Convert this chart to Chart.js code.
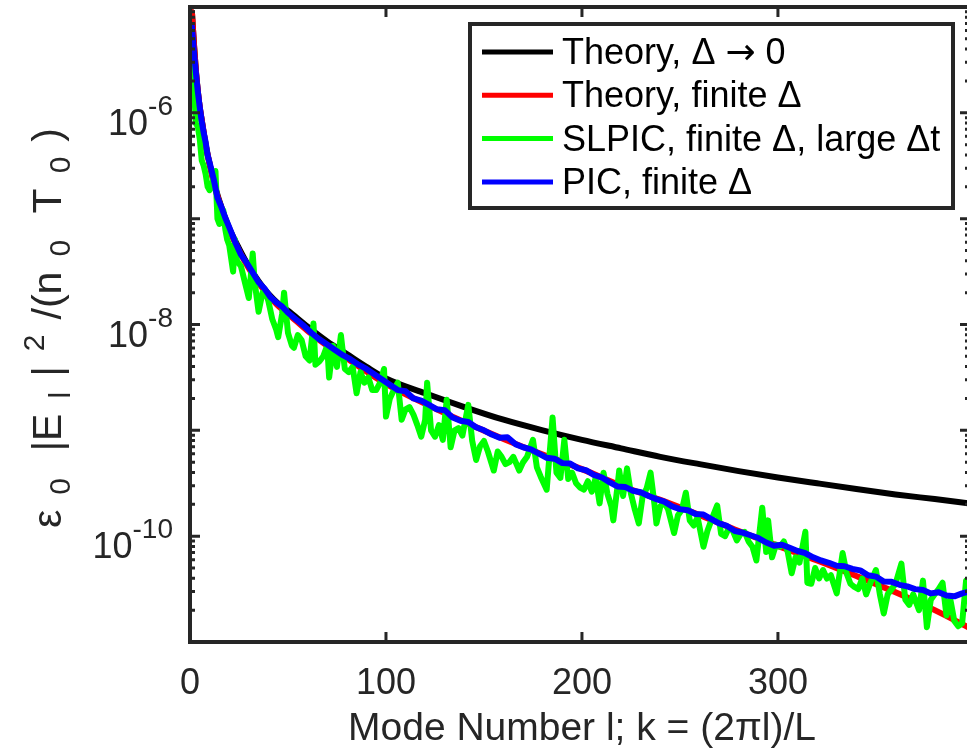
<!DOCTYPE html>
<html>
<head>
<meta charset="utf-8">
<script src="https://cdn.jsdelivr.net/npm/chart.js@4.4.1/dist/chart.umd.min.js"></script>
<style>
    html, body { margin: 0; padding: 0; background: #fff; overflow: hidden; }
    #wrap { width: 967px; height: 749px; overflow: hidden; }
</style>
</head>
<body>
<div id="wrap"><canvas id="spectrum" width="972" height="749"></canvas></div>
<script>
// DATA
const seriesLabels = ['Theory, \u0394 \u2192 0', 'Theory, finite \u0394', 'SLPIC, finite \u0394, large \u0394t', 'PIC, finite \u0394']

const theoryModes = [1, 2, 3, 4, 5, 6, 8, 10, 13, 16, 20, 25, 30, 35, 40, 45, 50, 60, 70, 80, 90, 100,
    120, 140, 160, 180, 200, 220, 240, 260, 280, 300, 320, 340, 360, 380, 398]
const theoryZeroDx = [8.9e-6, 4.5e-6, 2.5e-6, 1.6e-6, 1.12e-6, 8.5e-7, 5.0e-7, 3.3e-7, 1.95e-7, 1.29e-7,
    8.13e-8, 5.25e-8, 3.55e-8, 2.57e-8, 1.95e-8, 1.58e-8, 1.35e-8, 9.55e-9, 6.92e-9, 5.25e-9, 3.98e-9,
    3.09e-9, 2.24e-9, 1.66e-9, 1.26e-9, 1.0e-9, 8.13e-10, 6.76e-10, 5.62e-10, 4.79e-10, 4.12e-10,
    3.59e-10, 3.16e-10, 2.79e-10, 2.48e-10, 2.24e-10, 2.04e-10]
const theoryFiniteDx = [8.9e-6, 4.5e-6, 2.5e-6, 1.6e-6, 1.12e-6, 8.5e-7, 5.0e-7, 3.3e-7, 1.9e-7, 1.26e-7,
    7.9e-8, 5.0e-8, 3.4e-8, 2.45e-8, 1.9e-8, 1.5e-8, 1.26e-8, 8.7e-9, 6.3e-9, 4.8e-9, 3.6e-9, 2.75e-9,
    1.78e-9, 1.2e-9, 8.3e-10, 5.9e-10, 4.3e-10, 3.0e-10, 2.2e-10, 1.58e-10, 1.12e-10, 8.1e-11, 5.9e-11,
    4.2e-11, 2.95e-11, 2.0e-11, 1.35e-11]

const picModes = [1, 2, 3, 4, 5, 6, 7, 8, 9, 10, 12, 14, 16, 18, 20, 23, 26, 29, 32, 35, 38, 41, 44, 47,
    50, 54, 58, 62, 66, 70, 74, 78, 82, 86, 90, 94, 98, 102, 106, 110, 114, 118, 122, 126, 130, 134,
    138, 142, 146, 150, 154, 158, 162, 166, 170, 174, 178, 182, 186, 190, 194, 198, 202, 206, 210, 214,
    218, 222, 226, 230, 234, 238, 242, 246, 250, 254, 258, 262, 266, 270, 274, 278, 282, 286, 290, 294,
    298, 302, 306, 310, 314, 318, 322, 326, 330, 334, 338, 342, 346, 350, 354, 358, 362, 366, 370, 374,
    378, 382, 386, 390, 394, 398]
const picValues = [6.46e-6, 3.8e-6, 2.4e-6, 1.58e-6, 1.12e-6, 8.32e-7, 6.46e-7, 5.25e-7, 3.98e-7, 3.39e-7,
    2.4e-7, 1.58e-7, 1.29e-7, 1.02e-7, 8.32e-8, 6.03e-8, 4.57e-8, 3.8e-8, 3.09e-8, 2.51e-8, 2.19e-8,
    1.82e-8, 1.62e-8, 1.48e-8, 1.29e-8, 1.12e-8, 9.77e-9, 8.32e-9, 7.24e-9, 6.46e-9, 5.75e-9, 5.13e-9,
    4.68e-9, 4.17e-9, 3.8e-9, 3.39e-9, 3.02e-9, 2.69e-9, 2.4e-9, 2.34e-9, 2.0e-9, 1.91e-9, 1.74e-9,
    1.58e-9, 1.55e-9, 1.32e-9, 1.23e-9, 1.2e-9, 1.07e-9, 1.0e-9, 9.12e-10, 8.51e-10, 8.6e-10, 7.41e-10,
    6.92e-10, 6.6e-10, 6.03e-10, 5.5e-10, 5.4e-10, 4.9e-10, 4.85e-10, 4.37e-10, 4.2e-10, 3.8e-10, 3.6e-10,
    3.24e-10, 2.95e-10, 2.92e-10, 2.69e-10, 2.6e-10, 2.4e-10, 2.24e-10, 2.12e-10, 1.91e-10, 1.8e-10,
    1.76e-10, 1.62e-10, 1.6e-10, 1.45e-10, 1.32e-10, 1.25e-10, 1.12e-10, 1.08e-10, 1.02e-10, 9.6e-11,
    8.71e-11, 8.13e-11, 8.3e-11, 7.76e-11, 7.24e-11, 6.9e-11, 6.31e-11, 5.89e-11, 5.6e-11, 5.25e-11,
    5.2e-11, 4.9e-11, 4.75e-11, 4.27e-11, 4.15e-11, 3.72e-11, 3.7e-11, 3.47e-11, 3.35e-11, 3.16e-11,
    3.1e-11, 2.88e-11, 2.95e-11, 2.75e-11, 2.7e-11, 2.88e-11, 3.0e-11]

const slpicModes = [1, 2, 3, 4, 5, 6, 7, 8, 9, 10, 11, 12, 13, 14, 15, 16, 17, 18, 19, 20, 22, 23, 24, 26,
    28, 30, 31, 32, 33, 35, 37, 39, 40, 42, 44, 45, 47, 48, 50, 52, 53, 55, 57, 59, 61, 63, 64, 66, 68,
    70, 71, 73, 75, 77, 79, 81, 83, 85, 87, 89, 91, 93, 95, 97, 99, 100, 102, 104, 106, 108, 110, 112,
    114, 116, 118, 120, 121, 123, 125, 127, 129, 131, 133, 135, 137, 139, 142, 144, 146, 148, 150, 152,
    155, 157, 159, 161, 163, 165, 168, 170, 172, 175, 177, 179, 182, 185, 187, 189, 191, 193, 195, 197,
    199, 201, 203, 205, 207, 209, 211, 213, 215, 216, 218, 219, 221, 223, 225, 227, 229, 231, 233, 235,
    237, 238, 240, 242, 244, 247, 249, 251, 253, 255, 257, 259, 262, 264, 266, 269, 271, 273, 275, 277,
    279, 281, 283, 285, 287, 289, 292, 294, 295, 297, 299, 301, 303, 305, 307, 309, 311, 314, 315, 317,
    319, 321, 323, 325, 327, 330, 333, 335, 337, 339, 341, 343, 345, 347, 350, 352, 354, 356, 358, 360,
    363, 365, 367, 369, 372, 374, 376, 378, 380, 382, 384, 386, 388, 390, 392, 394, 396, 398]
const slpicValues = [3.55e-6, 1.78e-6, 7.94e-7, 7.41e-7, 5.62e-7, 3.55e-7, 3.16e-7, 2.63e-7, 2.0e-7, 1.86e-7,
    2.0e-7, 2.4e-7, 2.82e-7, 1.0e-7, 8.91e-8, 1.12e-7, 1.2e-7, 7.94e-8, 6.31e-8, 5.62e-8, 3.16e-8, 6.31e-8,
    3.98e-8, 3.55e-8, 2.51e-8, 1.78e-8, 2.82e-8, 4.68e-8, 2.51e-8, 1.32e-8, 2.0e-8, 1.91e-8, 1.66e-8,
    1.12e-8, 8.91e-9, 7.59e-9, 1.26e-8, 2.0e-8, 8.32e-9, 6.31e-9, 6.03e-9, 7.94e-9, 7.08e-9, 5.01e-9,
    4.57e-9, 1.02e-8, 4.17e-9, 4.47e-9, 5.01e-9, 6.31e-9, 3.16e-9, 6.31e-9, 3.98e-9, 7.94e-9, 3.8e-9,
    3.55e-9, 3.98e-9, 2.24e-9, 3.55e-9, 2.82e-9, 3.16e-9, 2.4e-9, 2.4e-9, 2.82e-9, 3.8e-9, 1.35e-9,
    2.0e-9, 2.4e-9, 2.82e-9, 1.26e-9, 1.58e-9, 1.66e-9, 1.41e-9, 1.12e-9, 8.71e-10, 1.26e-9, 2.82e-9,
    1.0e-9, 8.71e-10, 1.12e-9, 8.13e-10, 1.95e-9, 6.92e-10, 1.0e-9, 1.05e-9, 8.91e-10, 1.74e-9, 7.94e-10,
    5.25e-10, 7.08e-10, 7.94e-10, 6.31e-10, 4.17e-10, 6.31e-10, 5.62e-10, 4.79e-10, 5.01e-10, 5.62e-10,
    4.17e-10, 5.01e-10, 5.62e-10, 8.13e-10, 4.47e-10, 3.63e-10, 2.75e-10, 1.32e-9, 3.98e-10, 3.55e-10,
    8.13e-10, 3.47e-10, 3.98e-10, 3.16e-10, 2.88e-10, 2.75e-10, 3.31e-10, 2.63e-10, 3.55e-10, 2.04e-10,
    3.98e-10, 2.51e-10, 1.91e-10, 1.41e-10, 2.82e-10, 4.17e-10, 2.4e-10, 4.37e-10, 2.51e-10, 1.78e-10,
    1.32e-10, 2.4e-10, 2.82e-10, 3.98e-10, 2.0e-10, 1.32e-10, 1.91e-10, 2.09e-10, 1.78e-10, 1.07e-10,
    1.58e-10, 1.78e-10, 2.57e-10, 1.41e-10, 1.26e-10, 1.51e-10, 7.94e-11, 1.12e-10, 1.41e-10, 1.95e-10,
    1.05e-10, 1.0e-10, 1.2e-10, 1.12e-10, 9.12e-11, 1.05e-10, 1.1e-10, 8.91e-11, 7.94e-11, 5.89e-11,
    1.86e-10, 7.08e-11, 1.41e-10, 6.31e-11, 8.32e-11, 7.94e-11, 8.91e-11, 7.08e-11, 4.47e-11, 6.31e-11,
    5.62e-11, 1.1e-10, 3.63e-11, 3.55e-11, 5.01e-11, 3.98e-11, 4.79e-11, 3.98e-11, 4.27e-11, 2.88e-11,
    6.92e-11, 4.47e-11, 3.55e-11, 3.31e-11, 3.16e-11, 3.98e-11, 2.82e-11, 3.55e-11, 4.79e-11, 2.82e-11,
    1.86e-11, 2.82e-11, 3.16e-11, 3.55e-11, 5.5e-11, 2.51e-11, 2.24e-11, 2.82e-11, 2.0e-11, 3.8e-11,
    1.38e-11, 2.51e-11, 2.82e-11, 3.16e-11, 3.63e-11, 1.78e-11, 2.51e-11, 1.58e-11, 1.41e-11, 1.51e-11,
    3.8e-11, 4.0e-11]

const xTicks = [0, 100, 200, 300]
const yMajorTicks = [1e-11, 1e-10, 1e-9, 1e-8, 1e-7, 1e-6, 1e-5]
const yLabelTicks = [1e-6, 1e-8, 1e-10]
const yLabelExps = ['-6', '-8', '-10']

const xTitle = 'Mode Number l; k = (2\u03c0l)/L'

const toPoints = (modes, values) => modes.map((m, i) => ({ x: m, y: values[i] }))

// STYLE
const axisColor = '#262626'
const fontFamily = '"Liberation Sans", Arial, Helvetica, sans-serif'
const lineColors = ['#000000', '#ff0000', '#00ff00', '#0000ff']

// draws text, the arrow glyph taken from DejaVu (longer, like the TeX arrow)
const drawLegendText = (ctx, text, x, y, size) => {
    let cx = x
    text.split(/(\u2192)/).forEach((part) => {
        if (!part) return
        ctx.font = part === '\u2192' ? `${size}px "DejaVu Sans"` : `${size}px ${fontFamily}`
        ctx.fillText(part, cx, y)
        cx += ctx.measureText(part).width
    })
}

// AXES, TICKS, LABELS, LEGEND (matlab look)
const matlabAxes = {
    id: 'matlabAxes',
    afterDraw(chart) {
        const ctx = chart.ctx
        const { left, right, top, bottom } = chart.chartArea
        const xs = chart.scales.x
        const ys = chart.scales.y

        ctx.save()
        ctx.strokeStyle = axisColor
        ctx.lineCap = 'butt'

        // ticks
        ctx.lineWidth = 3
        ctx.beginPath()
        xTicks.forEach((v) => {
            const px = xs.getPixelForValue(v)
            ctx.moveTo(px, bottom); ctx.lineTo(px, bottom - 10)
            ctx.moveTo(px, top); ctx.lineTo(px, top + 10)
        })
        yMajorTicks.forEach((v, i) => {
            const py = ys.getPixelForValue(v)
            ctx.moveTo(left, py); ctx.lineTo(left + 10, py)
            ctx.moveTo(right, py); ctx.lineTo(right - 10, py)
            if (i < yMajorTicks.length - 1) {
                for (let k = 2; k < 10; k++) {
                    const pm = ys.getPixelForValue(v * k)
                    ctx.moveTo(left, pm); ctx.lineTo(left + 5, pm)
                    ctx.moveTo(right, pm); ctx.lineTo(right - 5, pm)
                }
            }
        })
        ctx.stroke()

        // box
        ctx.lineWidth = 4
        ctx.strokeRect(left, top, right - left, bottom - top)

        // tick labels
        ctx.fillStyle = axisColor
        ctx.textBaseline = 'alphabetic'
        ctx.font = `36px ${fontFamily}`
        ctx.textAlign = 'center'
        xTicks.forEach((v) => {
            ctx.fillText(String(v), xs.getPixelForValue(v), bottom + 52)
        })

        ctx.textAlign = 'left'
        yLabelTicks.forEach((v, i) => {
            const py = ys.getPixelForValue(v)
            ctx.font = `28px ${fontFamily}`
            const expW = ctx.measureText(yLabelExps[i]).width
            ctx.font = `36px ${fontFamily}`
            const baseW = ctx.measureText('10').width
            const x0 = left - 17 - expW - baseW
            ctx.fillText('10', x0, py + 22)
            ctx.font = `28px ${fontFamily}`
            ctx.fillText(yLabelExps[i], x0 + baseW, py + 2)
        })

        // x title
        ctx.font = `39px ${fontFamily}`
        ctx.textAlign = 'center'
        ctx.fillText(xTitle, (left + right) / 2 + 2, bottom + 98)

        // y title, TeX-like spacing over ~400px
        const pieces = [
            ['\u03b5', 'n'], ['0', 'sub'], [' |E', 'n'], ['l', 'sub'], ['|', 'n'], ['2', 'sup'],
            ['/(n', 'n'], ['0', 'sub'], [' T', 'n'], ['0', 'sub'], [')', 'n'],
        ]
        const pieceFont = (kind) => kind === 'n' ? `41px ${fontFamily}` : `30px ${fontFamily}`
        let total = 0
        pieces.forEach(([t, kind]) => {
            ctx.font = pieceFont(kind)
            total += ctx.measureText(t).width
        })
        const gap = Math.max(0, (400 - total) / (pieces.length - 1))
        ctx.translate(61, 328)
        ctx.rotate(-Math.PI / 2)
        ctx.textAlign = 'left'
        let cx = -200
        pieces.forEach(([t, kind]) => {
            ctx.font = pieceFont(kind)
            const dy = kind === 'sub' ? 9 : kind === 'sup' ? -17 : 0
            ctx.fillText(t, cx, dy)
            cx += ctx.measureText(t).width + gap
        })
        ctx.restore()

        // legend
        ctx.save()
        const lx = right - 500
        const ly = top + 17
        const lw = 483
        const lh = 184
        ctx.fillStyle = '#ffffff'
        ctx.fillRect(lx, ly, lw, lh)
        ctx.strokeStyle = axisColor
        ctx.lineWidth = 4
        ctx.strokeRect(lx, ly, lw, lh)
        ctx.textAlign = 'left'
        ctx.textBaseline = 'alphabetic'
        chart.data.datasets.forEach((ds, i) => {
            const ry = ly + 28 + i * 43.3
            ctx.strokeStyle = ds.borderColor
            ctx.lineWidth = 5
            ctx.beginPath()
            ctx.moveTo(lx + 12, ry)
            ctx.lineTo(lx + 83, ry)
            ctx.stroke()
            ctx.fillStyle = '#000000'
            drawLegendText(ctx, ds.label, lx + 92, ry + 12, 36)
        })
        ctx.restore()
    }
}

const spectrumCtx = document.getElementById('spectrum')

new Chart(spectrumCtx, {
    type: 'line',
    data: {
        datasets: [
            { label: seriesLabels[0], data: toPoints(theoryModes, theoryZeroDx), borderColor: lineColors[0],
              cubicInterpolationMode: 'monotone', order: 4 },
            { label: seriesLabels[1], data: toPoints(theoryModes, theoryFiniteDx), borderColor: lineColors[1],
              cubicInterpolationMode: 'monotone', order: 3 },
            { label: seriesLabels[2], data: toPoints(slpicModes, slpicValues), borderColor: lineColors[2],
              order: 2 },
            { label: seriesLabels[3], data: toPoints(picModes, picValues), borderColor: lineColors[3],
              order: 1 },
        ]
    },
    options: {
        responsive: false,
        animation: false,
        devicePixelRatio: 1,
        layout: {
            padding: { left: 190, top: 7, right: 2, bottom: 107 }
        },
        elements: {
            point: { radius: 0 },
            line: { borderWidth: 6, borderJoinStyle: 'round', borderCapStyle: 'round', tension: 0 }
        },
        plugins: {
            legend: { display: false },
            tooltip: { enabled: false },
            title: { display: false },
        },
        scales: {
            x: { type: 'linear', min: 0, max: 398, display: false },
            y: { type: 'logarithmic', min: 1e-11, max: 1e-5, display: false }
        }
    },
    plugins: [matlabAxes]
})
</script>
</body>
</html>
